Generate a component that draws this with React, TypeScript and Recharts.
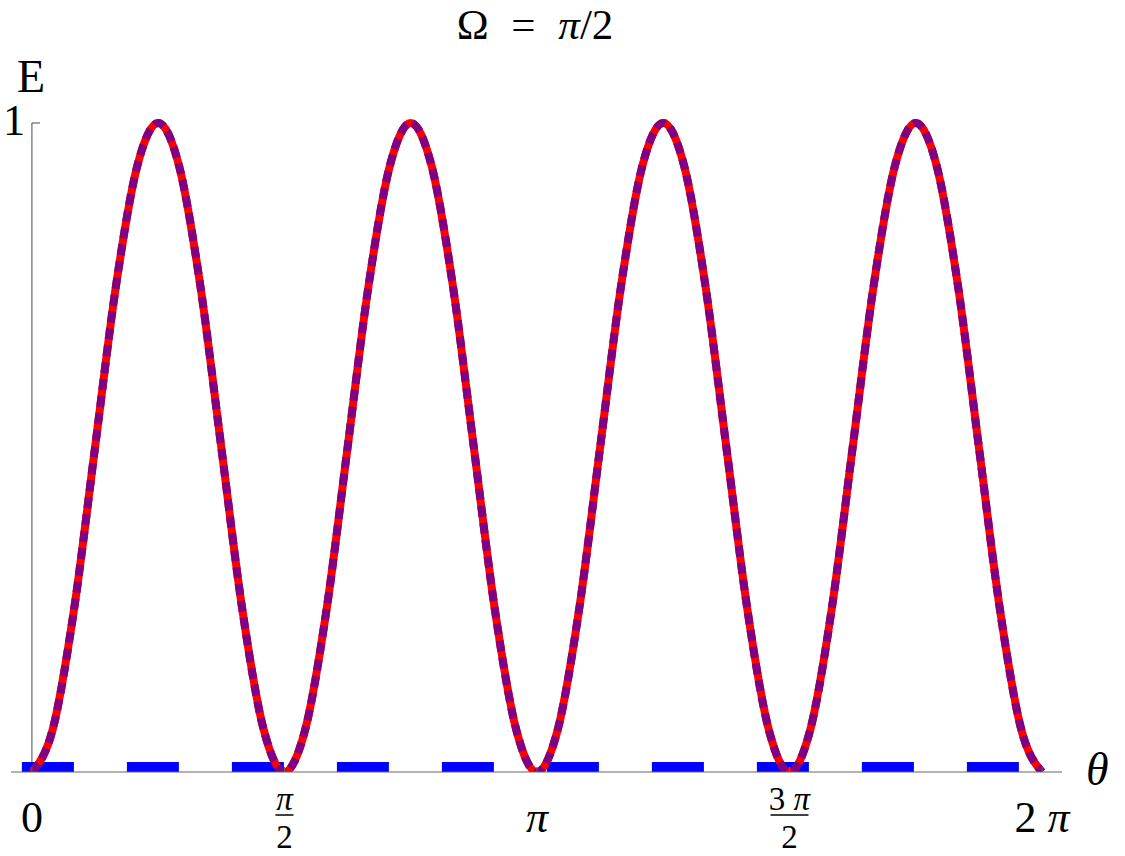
import { LineChart, Line, XAxis, YAxis, ReferenceLine } from 'recharts';

const THETA_STEP = Math.PI / 24;
const E_VALUES = [
  0, 0.067, 0.25, 0.5, 0.75, 0.933, 1, 0.933, 0.75, 0.5, 0.25, 0.067,
  0, 0.067, 0.25, 0.5, 0.75, 0.933, 1, 0.933, 0.75, 0.5, 0.25, 0.067,
  0, 0.067, 0.25, 0.5, 0.75, 0.933, 1, 0.933, 0.75, 0.5, 0.25, 0.067,
  0, 0.067, 0.25, 0.5, 0.75, 0.933, 1, 0.933, 0.75, 0.5, 0.25, 0.067,
  0,
];

// blue dashed reference at E = 0
const BASE_THETA = [0, 2 * Math.PI];
const BASE_E = [0, 0];

const TICKS = [0, Math.PI / 2, Math.PI, (3 * Math.PI) / 2, 2 * Math.PI];
const TICK_NUM = ['0', 'π', 'π', '3 π', '2 π'];
const TICK_DEN = [null, '2', null, '2', null];

const curveData = E_VALUES.map((e, i) => ({ theta: i * THETA_STEP, e }));
const baseData = BASE_THETA.map((theta, i) => ({ theta, e: BASE_E[i] }));

const FONT = '"Liberation Serif", "Times New Roman", serif';

// π is set in italic, like the math font of the original
function withPi(s: string) {
  return s.split(/(π)/).map((part, k) =>
    part === 'π' ? (
      <tspan key={k} fontStyle="italic">π</tspan>
    ) : (
      <tspan key={k}>{part}</tspan>
    )
  );
}

function ThetaTick({ x, y, payload }: any) {
  const i = TICKS.findIndex((t) => Math.abs(t - payload.value) < 1e-6);
  const num = TICK_NUM[i];
  const den = TICK_DEN[i];
  return (
    <g fontFamily={FONT} fill="#000">
      <line x1={x} x2={x} y1={y} y2={y - 5} stroke="#666" />
      {den ? (
        <>
          <text x={x} y={y + 38} textAnchor="middle" fontSize={33}>{withPi(num)}</text>
          <line
            x1={x - (num.length > 1 ? 19 : 9)}
            x2={x + (num.length > 1 ? 19 : 9)}
            y1={y + 43}
            y2={y + 43}
            stroke="#000"
            strokeWidth={1.5}
          />
          <text x={x} y={y + 76} textAnchor="middle" fontSize={33}>{den}</text>
        </>
      ) : (
        <text x={x} y={y + 60} textAnchor="middle" fontSize={44}>{withPi(num)}</text>
      )}
    </g>
  );
}

export default function App() {
  return (
    <div style={{ position: 'relative', width: 1125, height: 856 }}>
      <style>{`body { margin: 0; }`}</style>
      <LineChart
        width={1125}
        height={856}
        data={curveData}
        margin={{ top: 110, right: 63, left: 11, bottom: 0 }}
      >
        <XAxis
          dataKey="theta"
          type="number"
          domain={[-0.13, 2 * Math.PI + 0.124]}
          ticks={TICKS}
          height={84}
          tickSize={0}
          tickMargin={0}
          tickLine={false}
          axisLine={{ stroke: '#666', strokeWidth: 1.2 }}
          tick={<ThetaTick />}
          interval={0}
        />
        <YAxis type="number" domain={[0, 1.02]} allowDataOverflow hide />
        <ReferenceLine
          segment={[{ x: 0, y: 0 }, { x: 0, y: 1 }]}
          stroke="#666"
          strokeWidth={1.2}
        />
        <ReferenceLine
          segment={[{ x: 0, y: 1 }, { x: 0.05, y: 1 }]}
          stroke="#666"
          strokeWidth={1.2}
        />
        <Line
          data={baseData}
          dataKey="e"
          type="linear"
          stroke="#0000ff"
          strokeWidth={20}
          strokeDasharray="32 73"
          strokeLinecap="square"
          dot={false}
          activeDot={false}
          isAnimationActive={false}
        />
        <Line
          dataKey="e"
          type="monotone"
          stroke="#ff0000"
          strokeWidth={8}
          dot={false}
          activeDot={false}
          isAnimationActive={false}
        />
        <Line
          dataKey="e"
          type="monotone"
          stroke="#800080"
          strokeWidth={8}
          strokeDasharray="11 6"
          dot={false}
          activeDot={false}
          isAnimationActive={false}
        />
      </LineChart>
      <svg
        width={1125}
        height={856}
        style={{ position: 'absolute', left: 0, top: 0, pointerEvents: 'none' }}
        fontFamily={FONT}
      >
        <text x={535} y={39} textAnchor="middle" fontSize={43} wordSpacing={12}>
          Ω = {withPi('π/2')}
        </text>
        <text x={31} y={92} textAnchor="middle" fontSize={46}>E</text>
        <text x={14} y={135} textAnchor="middle" fontSize={44}>1</text>
        <text x={1086} y={785} fontSize={46} fontStyle="italic">θ</text>
      </svg>
    </div>
  );
}
